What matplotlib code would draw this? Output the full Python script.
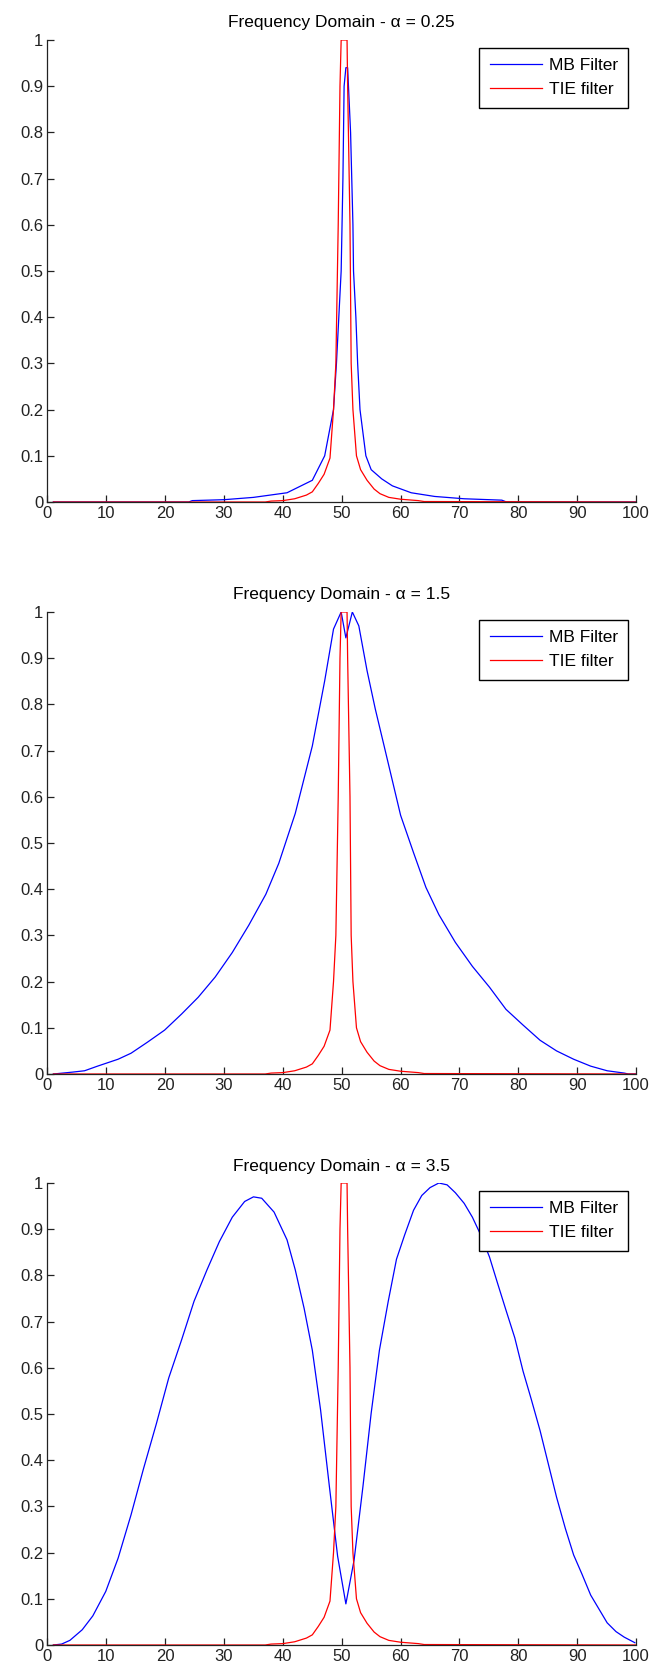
import numpy as np
import matplotlib
matplotlib.use("Agg")
import matplotlib.pyplot as plt

plt.rcParams['font.family'] = ['Liberation Sans', 'DejaVu Sans']

# TIE filter response (same in every panel)
tie_x = [1, 37, 38, 40, 42, 44, 45, 46, 47, 48,
         48.6, 49.0, 49.2, 49.4, 49.7, 49.9,
         50.9, 51.0, 51.2, 51.4, 51.6, 51.9, 52.5, 53.2, 54.3,
         55.5, 56.5, 58, 60, 63, 64, 100]
tie_y = [0, 0, 0.002, 0.003, 0.007, 0.015, 0.022, 0.04, 0.06, 0.095,
         0.2, 0.3, 0.45, 0.6, 0.9, 1.0,
         1.0, 0.9, 0.75, 0.6, 0.3, 0.2, 0.1, 0.07, 0.047,
         0.028, 0.018, 0.01, 0.006, 0.003, 0.001, 0]

# MB filter, alpha = 0.25
mb1_x = [1, 24, 24.6, 30, 35, 40.7, 45, 47.1, 48.6, 49.1, 49.9,
         50.2, 50.4, 50.7, 51.0, 51.5, 51.9, 52.0, 52.4, 52.7, 53.1,
         54.1, 55, 56.8, 58.6, 61.8, 65.8, 70.8, 77.2, 78, 100]
mb1_y = [0, 0, 0.003, 0.005, 0.01, 0.02, 0.047, 0.1, 0.2, 0.3, 0.5,
         0.7, 0.9, 0.94, 0.94, 0.8, 0.6, 0.5, 0.4, 0.3, 0.2,
         0.1, 0.07, 0.05, 0.035, 0.02, 0.012, 0.007, 0.004, 0, 0]

# MB filter, alpha = 1.5
mb2_x = [1, 4.2, 6.3, 8.5, 9.9, 12, 14.2, 17, 19.9, 22.8, 25.6, 28.5,
         31.4, 34.2, 37.1, 39.3, 42.1, 45, 47.1, 48.6, 49.9, 50.7, 51.8,
         52.9, 54.3, 55.7, 57.2, 58.6, 60, 62.2, 64.3, 66.5, 69.3, 72.2,
         75.1, 77.9, 80.8, 83.7, 86.5, 89.4, 92.3, 95.1, 98, 98.7, 100]
mb2_y = [0, 0.004, 0.007, 0.017, 0.023, 0.032, 0.045, 0.069, 0.095, 0.13,
         0.166, 0.21, 0.263, 0.322, 0.389, 0.456, 0.564, 0.71, 0.851, 0.963,
         1.0, 0.944, 1.0, 0.97, 0.873, 0.79, 0.71, 0.635, 0.56, 0.479, 0.404,
         0.345, 0.285, 0.233, 0.188, 0.14, 0.106, 0.073, 0.05, 0.032, 0.017,
         0.007, 0.002, 0, 0]

# MB filter, alpha = 3.5
mb3_x = [1, 2.4, 3.8, 5.9, 7.7, 9.9, 12, 14.2, 16.3, 18.5, 20.6, 22.8,
         24.9, 27.1, 29.2, 31.4, 33.5, 35.0, 36.4, 38.5, 40.7, 42.1, 43.6,
         45, 46.4, 47.9, 49.3, 50.7, 52.1, 53.6, 55, 56.4, 57.9, 59.3, 60.7,
         62.2, 63.6, 65, 66.5, 67.9, 69.3, 70.8, 72.2, 73.6, 75.1, 76.5,
         77.9, 79.4, 80.8, 82.2, 83.7, 85.1, 86.5, 88, 89.4, 90.8, 92.3,
         93.7, 95.1, 96.6, 98, 99.8]
mb3_y = [0, 0.002, 0.01, 0.033, 0.063, 0.116, 0.188, 0.282, 0.381, 0.479,
         0.578, 0.661, 0.744, 0.812, 0.873, 0.926, 0.96, 0.97, 0.967, 0.937,
         0.877, 0.812, 0.729, 0.638, 0.509, 0.343, 0.192, 0.089, 0.184, 0.343,
         0.502, 0.638, 0.744, 0.835, 0.888, 0.941, 0.973, 0.99, 1.0, 0.996,
         0.979, 0.956, 0.926, 0.888, 0.84, 0.782, 0.725, 0.665, 0.593, 0.532,
         0.464, 0.392, 0.32, 0.252, 0.195, 0.154, 0.108, 0.078, 0.048, 0.029,
         0.017, 0.005]

alphas = ['0.25', '1.5', '3.5']
mb_x = [mb1_x, mb2_x, mb3_x]
mb_y = [mb1_y, mb2_y, mb3_y]

xticks = np.arange(0, 101, 10)
yticks = np.round(np.arange(0, 1.01, 0.1), 1)
ylabels = ['0', '0.1', '0.2', '0.3', '0.4', '0.5', '0.6', '0.7', '0.8', '0.9', '1']

W, H = 661, 1669
fig = plt.figure(figsize=(W / 100, H / 100), dpi=100)

left = 47.5 / W
width = (636 - 47.5) / W
height = 462 / H
bottoms_px = [502, 1074, 1645]

for i in range(3):
    ax = fig.add_axes([left, (H - bottoms_px[i]) / H, width, height])
    ax.plot(mb_x[i], mb_y[i], color='#0000ff', linewidth=0.9, label='MB Filter')
    ax.plot(tie_x, tie_y, color='#ff0000', linewidth=0.9, label='TIE filter')
    ax.set_xlim(0, 100)
    ax.set_ylim(0, 1)
    ax.set_xticks(xticks)
    ax.set_yticks(yticks)
    ax.set_yticklabels(ylabels)
    ax.spines['top'].set_visible(False)
    ax.spines['right'].set_visible(False)
    for s in ['left', 'bottom']:
        ax.spines[s].set_linewidth(0.9)
        ax.spines[s].set_color('#222222')
    ax.tick_params(direction='in', length=5, width=0.9, labelsize=12,
                   colors='#222222', pad=3)
    ax.set_title('Frequency Domain - α = ' + alphas[i], fontsize=12.5, pad=9)
    leg = ax.legend(loc='upper right', fontsize=12.5, fancybox=False, framealpha=1,
                    edgecolor='black', handlelength=3.0, handletextpad=0.4,
                    labelspacing=0.5, borderpad=0.6, borderaxespad=0.45)
    leg.get_frame().set_linewidth(1.0)

fig.savefig('out.png', dpi=100)
